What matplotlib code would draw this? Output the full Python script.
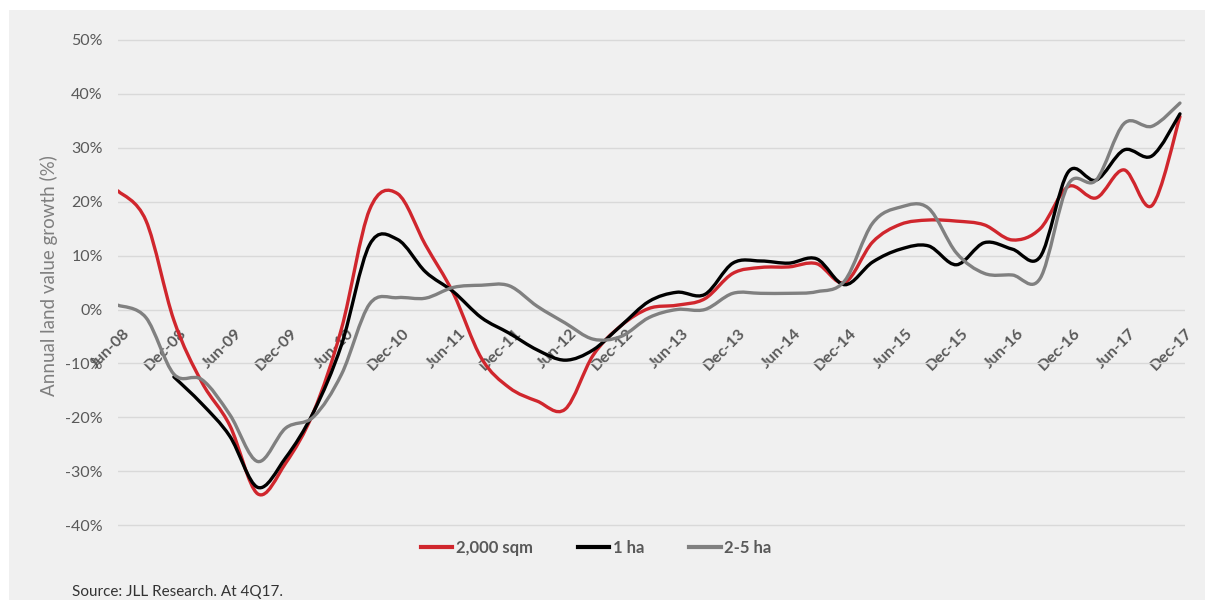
import numpy as np
import matplotlib.pyplot as plt
import matplotlib.transforms as mtransforms
from matplotlib.path import Path
from matplotlib.patches import PathPatch, Rectangle
from matplotlib.lines import Line2D

plt.rcParams['font.family'] = ['Lato', 'DejaVu Sans']

# half-yearly axis labels, quarterly data underneath (Jun-08 .. Dec-17)
tick_labels = ["Jun-08", "Dec-08", "Jun-09", "Dec-09", "Jun-10", "Dec-10",
               "Jun-11", "Dec-11", "Jun-12", "Dec-12", "Jun-13", "Dec-13",
               "Jun-14", "Dec-14", "Jun-15", "Dec-15", "Jun-16", "Dec-16",
               "Jun-17", "Dec-17"]

# annual land value growth in %
sqm_2000 = [22.0, 16.5, -2.0, -13.5, -21.5, -34.2, -28.5, -19.0, -3.5, 18.5,
            21.5, 12.0, 3.0, -9.0, -14.5, -17.0, -18.5, -8.5, -3.0, 0.2,
            0.8, 2.0, 6.7, 7.8, 7.9, 8.5, 5.0, 12.5, 15.8, 16.6,
            16.4, 15.7, 12.9, 15.0, 22.8, 20.7, 25.9, 19.3, 35.8]
ha_1 = [np.nan, np.nan, -12.5, -17.5, -23.5, -33.0, -27.5, -19.0, -6.5, 12.0,
        13.0, 7.0, 3.3, -1.5, -4.4, -7.5, -9.4, -7.5, -3.0, 1.5,
        3.2, 2.8, 8.6, 9.0, 8.6, 9.4, 4.6, 8.8, 11.2, 11.8,
        8.3, 12.4, 11.2, 9.8, 25.5, 24.0, 29.6, 28.5, 36.3]
ha_2_5 = [0.8, -1.5, -12.0, -13.0, -19.5, -28.2, -22.0, -19.9, -12.0, 1.0,
          2.2, 2.1, 4.1, 4.5, 4.4, 0.6, -2.5, -5.5, -5.0, -1.5,
          0.0, 0.0, 3.0, 3.0, 3.0, 3.3, 5.3, 16.0, 19.0, 18.8,
          10.5, 6.7, 6.4, 5.8, 23.2, 24.0, 34.5, 34.0, 38.3]

series = [("2,000 sqm", sqm_2000, "#d0262d"),
          ("1 ha", ha_1, "#000000"),
          ("2-5 ha", ha_2_5, "#808080")]


def smooth_path(x, y):
    """Bezier path through the points, smoothed like a spreadsheet line"""
    pts = np.column_stack([x, y])
    n = len(pts)
    verts = [pts[0]]
    codes = [Path.MOVETO]
    for k in range(n - 1):
        p0 = pts[max(k - 1, 0)]
        p1 = pts[k]
        p2 = pts[k + 1]
        p3 = pts[min(k + 2, n - 1)]
        verts += [p1 + (p2 - p0) / 6.0, p2 - (p3 - p1) / 6.0, p2]
        codes += [Path.CURVE4] * 3
    return Path(verts, codes)


fig = plt.figure(figsize=(12.05, 6.0), dpi=100, facecolor="white")
fig.patches.append(Rectangle((9 / 1205, 0), 1 - 9 / 1205, 1 - 10 / 600,
                             transform=fig.transFigure, facecolor="#f0f0f0",
                             edgecolor="none", zorder=-10))

ax = fig.add_axes([118 / 1205, 69.5 / 600, 1067 / 1205, 495.9 / 600])
ax.set_facecolor("none")

x_all = np.arange(len(sqm_2000))
handles = []
for name, values, color in series:
    vals = np.array(values, dtype=float)
    ok = ~np.isnan(vals)
    patch = PathPatch(smooth_path(x_all[ok], vals[ok]), facecolor="none",
                      edgecolor=color, lw=2.4, capstyle="round",
                      joinstyle="round", zorder=3)
    ax.add_patch(patch)
    handles.append(Line2D([], [], color=color, lw=3))

ax.set_xlim(0, 38.18)
ax.set_ylim(-41, 51)

ax.set_yticks(np.arange(-40, 51, 10))
ax.set_yticklabels(["{}%".format(v) for v in range(-40, 51, 10)])
ax.grid(axis="y", color="#d9d9d9", lw=1)
ax.set_axisbelow(True)
for s in ax.spines.values():
    s.set_visible(False)
ax.spines["bottom"].set_position(("data", 0))

ax.tick_params(axis="y", length=0, pad=11, labelsize=11.5, labelcolor="#595959")
ax.tick_params(axis="x", length=0, pad=12, labelsize=11.5, labelcolor="#595959")

ax.set_xticks(x_all[::2])
ax.set_xticklabels(tick_labels, rotation=45, ha="right", va="top",
                   rotation_mode="anchor", fontweight="bold")
shift = mtransforms.ScaledTranslation(0.05, 0, fig.dpi_scale_trans)
for lbl in ax.get_xticklabels():
    lbl.set_transform(lbl.get_transform() + shift)

ax.set_ylabel("Annual land value growth (%)", fontsize=13.5, color="#7f7f7f")
ax.yaxis.set_label_coords(-0.056, 0.515)

leg = fig.legend(handles, [s[0] for s in series], loc="center",
                 bbox_to_anchor=(596 / 1205, 1 - 548 / 600), ncol=3,
                 frameon=False, handlelength=1.9, handletextpad=0.2,
                 columnspacing=2.7, prop={"weight": "bold", "size": 12})
for t in leg.get_texts():
    t.set_color("#595959")

fig.text(72 / 1205, 1 - 596 / 600, "Source: JLL Research. At 4Q17.",
         fontsize=11, color="#333333", va="baseline")

fig.savefig("out.png", dpi=100, facecolor=fig.get_facecolor())
